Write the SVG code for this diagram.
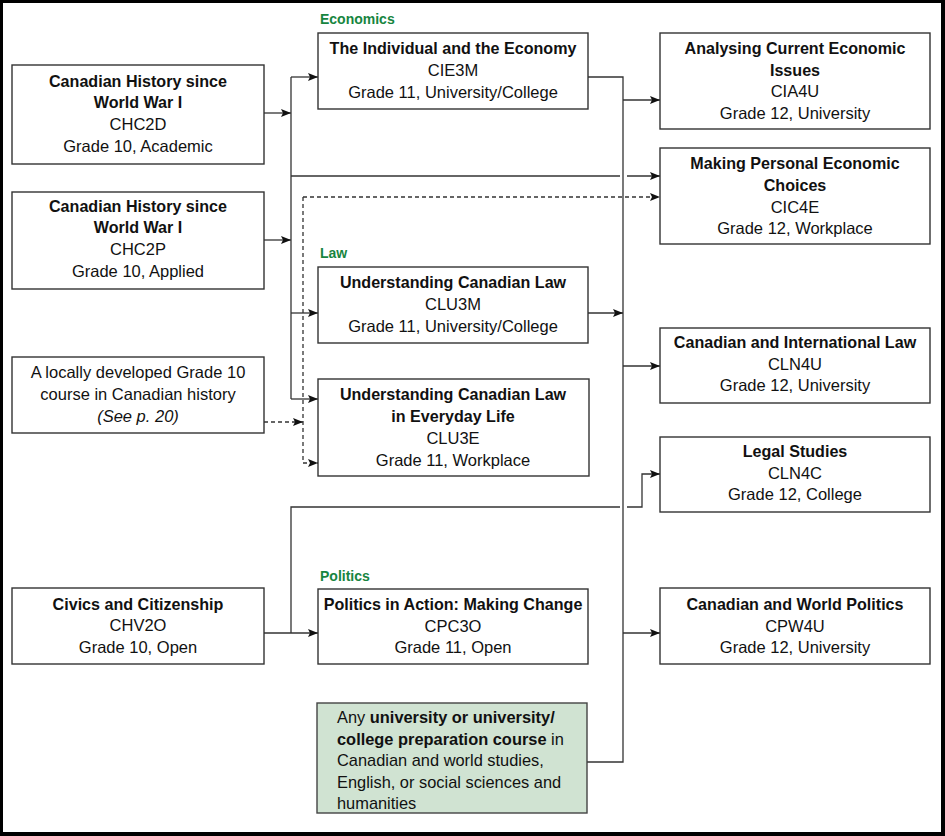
<svg xmlns="http://www.w3.org/2000/svg" width="945" height="836" viewBox="0 0 945 836">
<defs>
<style>
.box{fill:#fff;stroke:#333;stroke-width:1.4}
.gbox{fill:#d0e3d2;stroke:#444;stroke-width:1.4}
.t{font-family:"Liberation Sans",Arial,sans-serif;font-size:16.5px;fill:#111;text-anchor:middle}
.b{font-weight:bold;font-size:16.1px}
.gt{font-family:"Liberation Sans",Arial,sans-serif;font-size:16.4px;fill:#111}
.cat{font-family:"Liberation Sans",Arial,sans-serif;font-size:14px;font-weight:bold;fill:#17853f}
.ln{fill:none;stroke:#333;stroke-width:1.3}
.dash{fill:none;stroke:#333;stroke-width:1.3;stroke-dasharray:4 3}
</style>
<marker id="ah" markerUnits="userSpaceOnUse" markerWidth="11" markerHeight="9" refX="10" refY="4" orient="auto">
<path d="M0,0 L10,4 L0,8 L2,4 z" fill="#111"/>
</marker>
</defs>
<path d="M0,0H945V836H0Z M3,3V832H941V3Z" fill="#000" fill-rule="evenodd"/>
<rect x="3" y="3" width="938" height="829" fill="#fff"/>

<g id="connectors">
<path class="ln" d="M264,113H291" marker-end="url(#ah)"/>
<path class="ln" d="M264,240H291" marker-end="url(#ah)"/>
<path class="ln" d="M291,77V399"/>
<path class="ln" d="M291,77H318" marker-end="url(#ah)"/>
<path class="ln" d="M291,313H318" marker-end="url(#ah)"/>
<path class="ln" d="M291,399H318" marker-end="url(#ah)"/>
<path class="ln" d="M291,176H620"/>
<path class="ln" d="M627,176H660" marker-end="url(#ah)"/>
<path class="dash" d="M264,422H303" marker-end="url(#ah)"/>
<path class="dash" d="M303,197V463"/>
<path class="dash" d="M303,197H660" marker-end="url(#ah)"/>
<path class="dash" d="M303,463H318" marker-end="url(#ah)"/>
<path class="ln" d="M588,77H623V762H587"/>
<path class="ln" d="M623,100H660" marker-end="url(#ah)"/>
<path class="ln" d="M588,313H623" marker-end="url(#ah)"/>
<path class="ln" d="M623,366H660" marker-end="url(#ah)"/>
<path class="ln" d="M623,633H660" marker-end="url(#ah)"/>
<path class="ln" d="M264,633H318" marker-end="url(#ah)"/>
<path class="ln" d="M291,633V507H620"/>
<path class="ln" d="M627,507H642V474H660" marker-end="url(#ah)"/>
</g>

<g id="labels">
<text class="cat" x="320" y="24">Economics</text>
<text class="cat" x="320" y="258">Law</text>
<text class="cat" x="320" y="581">Politics</text>
</g>

<g id="CHC2D">
<rect class="box" x="12" y="65" width="252" height="99"/>
<text class="t b" x="138" y="87">Canadian History since</text>
<text class="t b" x="138" y="108">World War I</text>
<text class="t" x="138" y="130">CHC2D</text>
<text class="t" x="138" y="152">Grade 10, Academic</text>
</g>
<g id="CHC2P">
<rect class="box" x="12" y="192" width="252" height="97"/>
<text class="t b" x="138" y="212">Canadian History since</text>
<text class="t b" x="138" y="233">World War I</text>
<text class="t" x="138" y="255">CHC2P</text>
<text class="t" x="138" y="277">Grade 10, Applied</text>
</g>
<g id="LOCAL">
<rect class="box" x="12" y="357" width="252" height="76"/>
<text class="t" x="138" y="378">A locally developed Grade 10</text>
<text class="t" x="138" y="400">course in Canadian history</text>
<text class="t" x="138" y="422" font-style="italic">(See p. 20)</text>
</g>
<g id="CHV2O">
<rect class="box" x="12" y="588" width="252" height="76"/>
<text class="t b" x="138" y="610">Civics and Citizenship</text>
<text class="t" x="138" y="631">CHV2O</text>
<text class="t" x="138" y="653">Grade 10, Open</text>
</g>

<g id="CIE3M">
<rect class="box" x="318" y="33" width="270" height="76"/>
<text class="t b" x="453" y="54">The Individual and the Economy</text>
<text class="t" x="453" y="76">CIE3M</text>
<text class="t" x="453" y="98">Grade 11, University/College</text>
</g>
<g id="CLU3M">
<rect class="box" x="318" y="267" width="270" height="76"/>
<text class="t b" x="453" y="288">Understanding Canadian Law</text>
<text class="t" x="453" y="310">CLU3M</text>
<text class="t" x="453" y="332">Grade 11, University/College</text>
</g>
<g id="CLU3E">
<rect class="box" x="318" y="379" width="271" height="97"/>
<text class="t b" x="453" y="400">Understanding Canadian Law</text>
<text class="t b" x="453" y="422">in Everyday Life</text>
<text class="t" x="453" y="444">CLU3E</text>
<text class="t" x="453" y="466">Grade 11, Workplace</text>
</g>
<g id="CPC3O">
<rect class="box" x="318" y="589" width="270" height="75"/>
<text class="t b" x="453" y="610">Politics in Action: Making Change</text>
<text class="t" x="453" y="632">CPC3O</text>
<text class="t" x="453" y="653">Grade 11, Open</text>
</g>
<g id="ANY">
<rect class="gbox" x="317" y="703" width="270" height="110"/>
<text class="gt" x="337" y="723">Any <tspan font-weight="bold">university or university/</tspan></text>
<text class="gt" x="337" y="745"><tspan font-weight="bold">college preparation course</tspan> in</text>
<text class="gt" x="337" y="766">Canadian and world studies,</text>
<text class="gt" x="337" y="788">English, or social sciences and</text>
<text class="gt" x="337" y="809">humanities</text>
</g>

<g id="CIA4U">
<rect class="box" x="660" y="33" width="270" height="96"/>
<text class="t b" x="795" y="54">Analysing Current Economic</text>
<text class="t b" x="795" y="76">Issues</text>
<text class="t" x="795" y="97">CIA4U</text>
<text class="t" x="795" y="119">Grade 12, University</text>
</g>
<g id="CIC4E">
<rect class="box" x="660" y="148" width="270" height="96"/>
<text class="t b" x="795" y="169">Making Personal Economic</text>
<text class="t b" x="795" y="191">Choices</text>
<text class="t" x="795" y="213">CIC4E</text>
<text class="t" x="795" y="234">Grade 12, Workplace</text>
</g>
<g id="CLN4U">
<rect class="box" x="660" y="328" width="270" height="75"/>
<text class="t b" x="795" y="348">Canadian and International Law</text>
<text class="t" x="795" y="370">CLN4U</text>
<text class="t" x="795" y="391">Grade 12, University</text>
</g>
<g id="CLN4C">
<rect class="box" x="660" y="437" width="270" height="75"/>
<text class="t b" x="795" y="457">Legal Studies</text>
<text class="t" x="795" y="479">CLN4C</text>
<text class="t" x="795" y="500">Grade 12, College</text>
</g>
<g id="CPW4U">
<rect class="box" x="660" y="588" width="270" height="76"/>
<text class="t b" x="795" y="610">Canadian and World Politics</text>
<text class="t" x="795" y="632">CPW4U</text>
<text class="t" x="795" y="653">Grade 12, University</text>
</g>
</svg>
